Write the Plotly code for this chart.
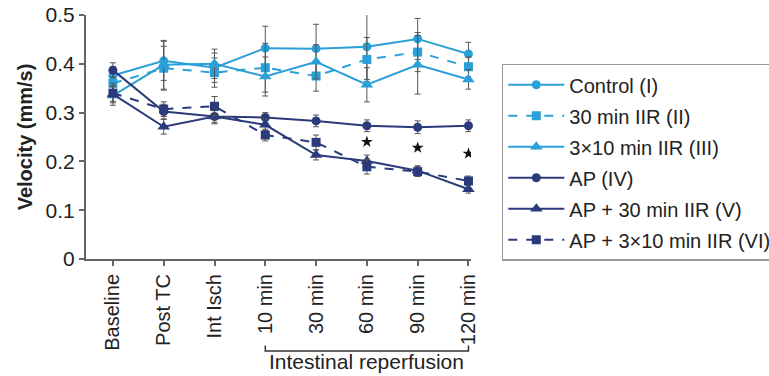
import plotly.graph_objects as go

categories = ["Baseline", "Post TC", "Int Isch", "10 min", "30 min", "60 min", "90 min", "120 min"]

control = [0.376, 0.406, 0.392, 0.432, 0.431, 0.435, 0.451, 0.420]
control_err = [0.018, 0.040, 0.030, 0.045, 0.050, 0.067, 0.042, 0.024]

iir30 = [0.360, 0.391, 0.382, 0.392, 0.375, 0.409, 0.424, 0.394]
iir30_err = [0.020, 0.045, 0.030, 0.050, 0.031, 0.045, 0.040, 0.020]

iir3x10 = [0.335, 0.398, 0.400, 0.374, 0.404, 0.357, 0.398, 0.368]
iir3x10_err = [0.020, 0.050, 0.030, 0.040, 0.035, 0.035, 0.060, 0.020]

ap = [0.387, 0.302, 0.292, 0.290, 0.283, 0.273, 0.270, 0.273]
ap_err = [0.015, 0.015, 0.015, 0.010, 0.012, 0.012, 0.013, 0.012]

ap_iir30 = [0.338, 0.271, 0.292, 0.275, 0.213, 0.201, 0.181, 0.143]
ap_iir30_err = [0.015, 0.015, 0.012, 0.012, 0.010, 0.012, 0.010, 0.008]

ap_iir3x10 = [0.340, 0.307, 0.313, 0.254, 0.239, 0.189, 0.179, 0.160]
ap_iir3x10_err = [0.020, 0.015, 0.020, 0.012, 0.015, 0.015, 0.010, 0.010]

star_x = ["60 min", "90 min", "120 min"]
star_y = [0.240, 0.228, 0.216]

LIGHT = "#2a9fd8"
DARK = "#2a3a7a"
ERR = "#555555"

series = [
    ("Control (I)", control, control_err, LIGHT, "solid", "circle", 9),
    ("30 min IIR (II)", iir30, iir30_err, LIGHT, "dash", "square", 9),
    ("3\u00d710 min IIR (III)", iir3x10, iir3x10_err, LIGHT, "solid", "triangle-up", 11),
    ("AP (IV)", ap, ap_err, DARK, "solid", "circle", 9),
    ("AP + 30 min IIR (V)", ap_iir30, ap_iir30_err, DARK, "solid", "triangle-up", 11),
    ("AP + 3\u00d710 min IIR (VI)", ap_iir3x10, ap_iir3x10_err, DARK, "dash", "square", 9),
]

fig = go.Figure()
for i, (name, vals, errs, col, dash, sym, sz) in enumerate(series):
    fig.add_trace(go.Scatter(
        x=categories, y=vals, name=name, mode="lines+markers",
        line=dict(color=col, width=2, dash=dash),
        marker=dict(color=col, symbol=sym, size=sz),
        error_y=dict(type="data", array=errs, visible=True, color=ERR, thickness=1, width=3),
        legendgroup=f"g{i}",
        cliponaxis=False,
    ))

fig.add_trace(go.Scatter(
    x=star_x, y=star_y, mode="markers", showlegend=False,
    marker=dict(symbol="star", size=9, color="#111111"),
))

# bracket for intestinal reperfusion
fig.add_shape(type="path", xref="x", yref="paper",
              path="M 3,-0.355 L 3,-0.377 L 7,-0.377 L 7,-0.355",
              line=dict(color="#333333", width=1.5))
fig.add_annotation(x=5, y=-0.42, xref="x", yref="paper", text="Intestinal reperfusion",
                   showarrow=False, font=dict(size=21, color="#222222"), yanchor="middle")

fig.update_layout(
    width=769, height=376,
    margin=dict(l=86, r=298, t=15, b=117, autoexpand=False),
    paper_bgcolor="white", plot_bgcolor="white",
    font=dict(family="Liberation Sans, Arial, sans-serif", color="#222222"),
    showlegend=True,
    legend=dict(
        x=1.08, y=0.80, xanchor="left", yanchor="top",
        bordercolor="#999999", borderwidth=1.5,
        font=dict(size=20, color="#222222"),
        tracegroupgap=2,
        itemwidth=56,
    ),
    xaxis=dict(
        type="category", range=[-0.53, 7.05], automargin=False,
        showline=True, linecolor="#666666", linewidth=2,
        ticks="outside", ticklen=5, tickcolor="#666666", tickwidth=1.5,
        tickangle=-90, tickfont=dict(size=20),
        showgrid=False, zeroline=False,
    ),
    yaxis=dict(
        range=[0, 0.5], tickvals=[0, 0.1, 0.2, 0.3, 0.4, 0.5], automargin=False,
        ticktext=["0", "0.1", "0.2", "0.3", "0.4", "0.5"],
        showline=True, linecolor="#666666", linewidth=2,
        ticks="outside", ticklen=5, tickcolor="#666666", tickwidth=1.5,
        tickfont=dict(size=21),
        showgrid=False, zeroline=False,
        title=dict(text="<b>Velocity (mm/s)</b>", font=dict(size=20), standoff=8),
    ),
)

fig.write_html("out.html")
